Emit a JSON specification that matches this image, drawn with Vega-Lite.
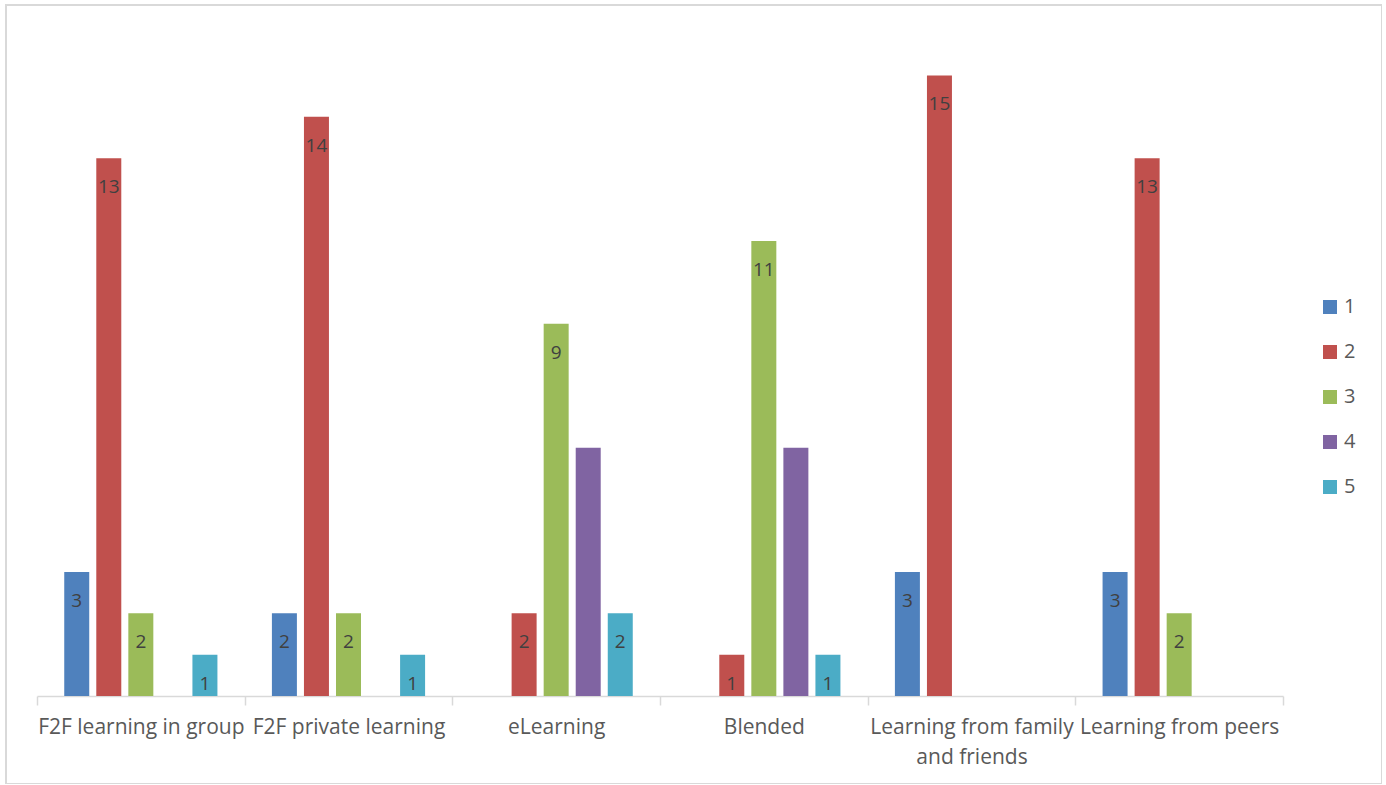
{
  "$schema": "https://vega.github.io/schema/vega-lite/v6.json",
  "width": 1376,
  "height": 779,
  "padding": {"left": 6, "top": 5, "right": 0, "bottom": 0},
  "background": "white",
  "config": {
    "view": {"stroke": "#d9d9d9", "strokeWidth": 2},
    "font": "Open Sans"
  },
  "data": {
    "values": [
      {"category": "F2F learning in group", "series": "1", "value": 3},
      {"category": "F2F learning in group", "series": "2", "value": 13},
      {"category": "F2F learning in group", "series": "3", "value": 2},
      {"category": "F2F learning in group", "series": "5", "value": 1},
      {"category": "F2F private learning", "series": "1", "value": 2},
      {"category": "F2F private learning", "series": "2", "value": 14},
      {"category": "F2F private learning", "series": "3", "value": 2},
      {"category": "F2F private learning", "series": "5", "value": 1},
      {"category": "eLearning", "series": "2", "value": 2},
      {"category": "eLearning", "series": "3", "value": 9},
      {"category": "eLearning", "series": "4", "value": 6},
      {"category": "eLearning", "series": "5", "value": 2},
      {"category": "Blended", "series": "2", "value": 1},
      {"category": "Blended", "series": "3", "value": 11},
      {"category": "Blended", "series": "4", "value": 6},
      {"category": "Blended", "series": "5", "value": 1},
      {"category": "Learning from family and friends", "series": "1", "value": 3},
      {"category": "Learning from family and friends", "series": "2", "value": 15},
      {"category": "Learning from peers", "series": "1", "value": 3},
      {"category": "Learning from peers", "series": "2", "value": 13},
      {"category": "Learning from peers", "series": "3", "value": 2}
    ]
  },
  "encoding": {
    "x": {
      "field": "category",
      "type": "nominal",
      "sort": ["F2F learning in group", "F2F private learning", "eLearning", "Blended", "Learning from family and friends", "Learning from peers"],
      "scale": {"paddingInner": 0, "paddingOuter": 0, "range": [31, 1277]},
      "axis": {
        "title": null,
        "offset": -88,
        "labelAngle": 0,
        "labelFontSize": 21,
        "labelColor": "#595959",
        "labelPadding": 11,
        "labelLineHeight": 30,
        "labelLimit": 0,
        "labelExpr": "datum.label == 'Learning from family and friends' ? ['Learning from family', 'and friends'] : datum.label",
        "domainColor": "#d9d9d9",
        "domainWidth": 1.5,
        "tickColor": "#d9d9d9",
        "tickWidth": 1.5,
        "tickSize": 9,
        "tickBand": "extent"
      }
    },
    "xOffset": {
      "field": "series",
      "type": "nominal",
      "scale": {"domain": ["1", "2", "3", "4", "5"], "paddingInner": 0.22, "paddingOuter": 0.85}
    },
    "y": {
      "field": "value",
      "type": "quantitative",
      "scale": {"domain": [0, 16], "range": [691, 29]},
      "axis": null
    }
  },
  "layer": [
    {
      "mark": {"type": "bar"},
      "encoding": {
        "color": {
          "field": "series",
          "type": "nominal",
          "scale": {
            "domain": ["1", "2", "3", "4", "5"],
            "range": ["#4f81bd", "#c0504d", "#9bbb59", "#8064a2", "#4bacc6"]
          },
          "legend": {
            "title": null,
            "orient": "none",
            "legendX": 1314,
            "legendY": 292,
            "symbolType": "square",
            "symbolSize": 196,
            "symbolStrokeWidth": 0,
            "labelFontSize": 20,
            "labelColor": "#595959",
            "labelOffset": 4,
            "rowPadding": 25
          }
        }
      }
    },
    {
      "transform": [{"filter": "datum.series != '4'"}],
      "mark": {"type": "text", "baseline": "middle", "dy": 29, "fontSize": 19, "color": "#404040"},
      "encoding": {
        "text": {"field": "value", "type": "quantitative"}
      }
    }
  ]
}
